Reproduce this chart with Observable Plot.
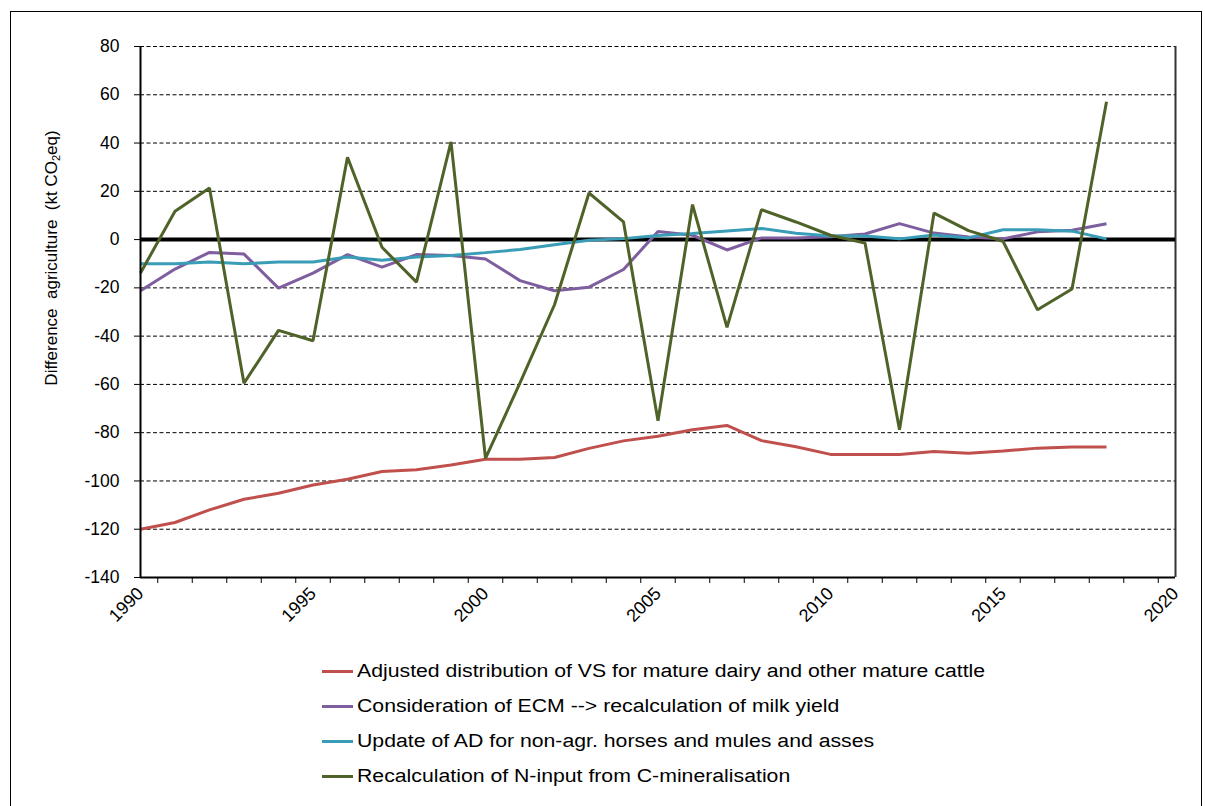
<!DOCTYPE html>
<html>
<head>
<meta charset="utf-8">
<script src="https://cdn.jsdelivr.net/npm/d3@7"></script>
<script src="https://cdn.jsdelivr.net/npm/@observablehq/plot@0.6"></script>
<style>
  html, body { margin: 0; padding: 0; background: #fff; }
  body { width: 1205px; height: 806px; position: relative; overflow: hidden; font-family: "Liberation Sans", Arial, sans-serif; }
  #frame { position: absolute; left: 10px; top: 11px; width: 1192px; height: 810px; border: 1px solid #000; box-sizing: border-box; }
  #chart { position: absolute; left: 0; top: 0; }
  #ylabel { position: absolute; left: 52px; top: 258px; transform: translate(-50%, -50%) rotate(-90deg); white-space: nowrap; font-size: 17px; color: #000; }
  #ylabel sub { font-size: 11px; vertical-align: -3px; }
  #legend { position: absolute; left: 322px; top: 654px; font-size: 18px; color: #000; }
  .row { display: flex; align-items: center; height: 35px; white-space: nowrap; }
  .sw { width: 31px; height: 3px; margin-right: 4px; flex: none; }
  .lt { display: inline-block; transform: scaleX(1.18); transform-origin: left center; }
</style>
</head>
<body>
<div id="frame"></div>
<div id="chart"></div>
<div id="ylabel">Difference&nbsp; agriculture&nbsp; (kt CO<sub>2</sub>eq)</div>
<div id="legend"></div>
<script>
const years = [1990, 1991, 1992, 1993, 1994, 1995, 1996, 1997, 1998, 1999,
               2000, 2001, 2002, 2003, 2004, 2005, 2006, 2007, 2008, 2009,
               2010, 2011, 2012, 2013, 2014, 2015, 2016, 2017, 2018];

const seriesNames = [
  "Adjusted distribution of VS for mature dairy and other mature cattle",
  "Consideration of ECM --> recalculation of milk yield",
  "Update of AD for non-agr. horses and mules and asses",
  "Recalculation of N-input from C-mineralisation"
];
const seriesColors = ["#C0504D", "#7E5E9E", "#3A9DB8", "#4F6228"];

const vsDistribution = [-120, -117.2, -112, -107.6, -105.1, -101.7, -99.3, -96.1, -95.4, -93.4,
                        -91, -91, -90.3, -86.5, -83.4, -81.5, -78.8, -77, -83.3, -85.8,
                        -89, -89, -89, -87.8, -88.5, -87.6, -86.4, -85.9, -85.9];
const ecmMilkYield = [-21.2, -12.2, -5.3, -6.0, -20.1, -13.9, -6.2, -11.4, -6.2, -6.6,
                      -8.0, -17.0, -21.2, -19.7, -12.4, 3.4, 1.8, -4.3, 0.7, 0.7,
                      1.2, 2.3, 6.6, 2.7, 1.1, 0.3, 3.2, 3.9, 6.6];
const adHorses = [-10, -10, -9.3, -10, -9.3, -9.3, -7.2, -8.6, -7.2, -6.6,
                  -5.4, -4.1, -2.1, -0.3, 0.4, 1.7, 2.5, 3.6, 4.6, 2.6,
                  1.5, 1.5, 0.3, 1.9, 0.7, 4.1, 4.1, 3.5, 0.3];
const nInput = [-13.8, 11.7, 21.4, -59.5, -37.6, -41.9, 34.1, -3.2, -17.6, 40.5,
                -90.6, -59.4, -27, 19.3, 7.3, -75.1, 14.5, -36.4, 12.4, 7.3,
                1.8, -1.4, -78.8, 11.0, 3.7, -0.7, -29.1, -20.5, 57.1];

const yTicks = [-140, -120, -100, -80, -60, -40, -20, 0, 20, 40, 60, 80];
const xLabelYears = [1990, 1995, 2000, 2005, 2010, 2015, 2020];
const xMinorTicks = [1990.5, 1991.5, 1992.5, 1993.5, 1994.5, 1995.5, 1996.5, 1997.5, 1998.5, 1999.5,
                     2000.5, 2001.5, 2002.5, 2003.5, 2004.5, 2005.5, 2006.5, 2007.5, 2008.5, 2009.5,
                     2010.5, 2011.5, 2012.5, 2013.5, 2014.5, 2015.5, 2016.5, 2017.5, 2018.5, 2019.5];

const allSeries = [vsDistribution, ecmMilkYield, adHorses, nInput];
const rows = [];
allSeries.forEach((vals, i) => {
  vals.forEach((v, j) => rows.push({year: years[j], value: v, series: seriesNames[i]}));
});

const gridVals = yTicks.filter(v => v !== 0 && v !== -140);

const chart = Plot.plot({
  width: 1205,
  height: 640,
  marginLeft: 140,
  marginRight: 30,
  marginTop: 46,
  marginBottom: 63,
  style: {fontFamily: "Liberation Sans, Arial, sans-serif", fontSize: "17px", color: "#000", background: "transparent"},
  x: {domain: [1990, 2020]},
  y: {domain: [-140, 80]},
  color: {domain: seriesNames, range: seriesColors},
  marks: [
    Plot.ruleY(gridVals, {stroke: "#000", strokeWidth: 1, strokeDasharray: "4,2.5"}),
    Plot.ruleX([2020], {stroke: "#333", strokeWidth: 2}),
    Plot.ruleY([0], {stroke: "#000", strokeWidth: 4}),
    Plot.axisY(yTicks, {tickSize: 6, tickPadding: 15, label: null, stroke: "#000", fontSize: 17.5, tickFormat: d => String(d)}),
    Plot.axisX(xMinorTicks, {tickSize: 6, tickFormat: () => "", label: null, stroke: "#000"}),
    Plot.axisX(xLabelYears, {tickSize: 0, tickPadding: 13, tickRotate: -45, tickFormat: d => String(d), label: null, fontSize: 18}),
    Plot.line(rows, {x: "year", y: "value", z: "series", stroke: "series", strokeWidth: 3, strokeLinejoin: "miter", strokeLinecap: "butt"}),
    Plot.ruleX([1990], {stroke: "#000", strokeWidth: 2}),
    Plot.ruleY([-140], {stroke: "#000", strokeWidth: 2})
  ]
});
document.getElementById("chart").appendChild(chart);

const legend = document.getElementById("legend");
seriesNames.forEach((name, i) => {
  const row = document.createElement("div");
  row.className = "row";
  const sw = document.createElement("div");
  sw.className = "sw";
  sw.style.background = seriesColors[i];
  const t = document.createElement("span");
  t.className = "lt";
  t.textContent = name;
  row.appendChild(sw);
  row.appendChild(t);
  legend.appendChild(row);
});
</script>
</body>
</html>
